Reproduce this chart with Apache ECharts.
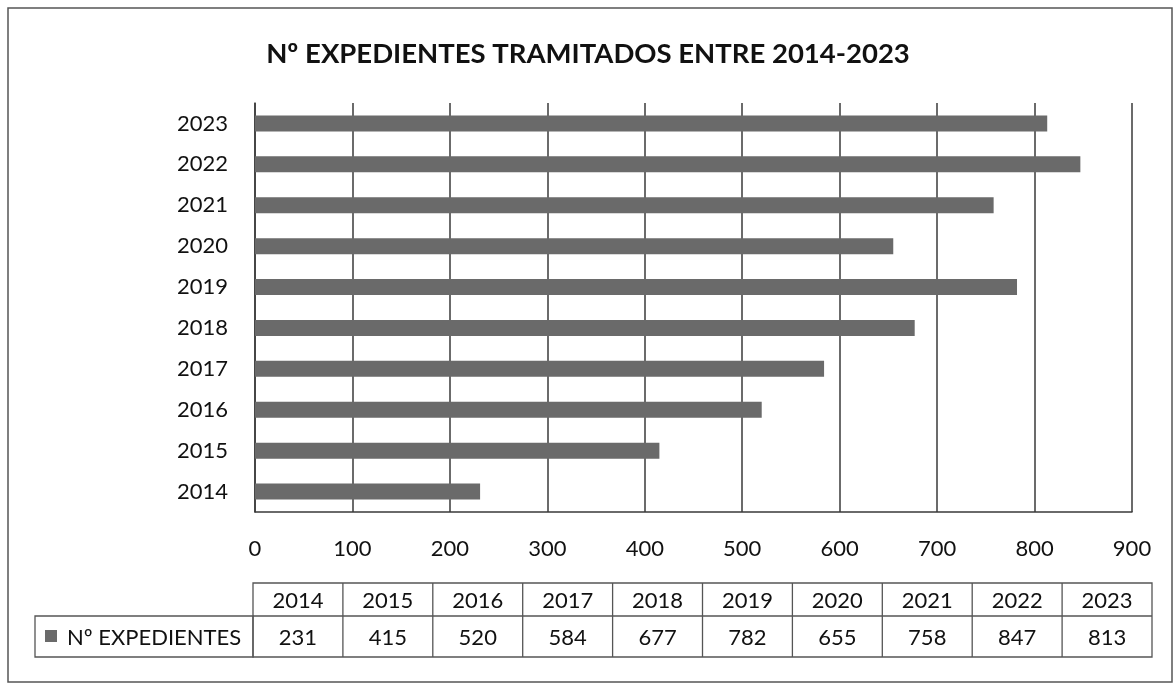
<!DOCTYPE html>
<html><head><meta charset="utf-8">
<script src="https://cdn.jsdelivr.net/npm/echarts@6/dist/echarts.min.js"></script>
<style>html,body{margin:0;padding:0;background:#fff}#c{width:1176px;height:685px}</style>
</head><body><div id="c"></div>
<script>
const title = 'Nº EXPEDIENTES TRAMITADOS ENTRE 2014-2023';
const seriesName = 'Nº EXPEDIENTES';
const years = ['2014','2015','2016','2017','2018','2019','2020','2021','2022','2023'];
const expedientes = [231, 415, 520, 584, 677, 782, 655, 758, 847, 813];
const xTicks = [0,100,200,300,400,500,600,700,800,900];

const FONT = 'Lato, "Open Sans", sans-serif';
const BAR = '#6a6a6a';
const LINE = '#3a3a3a';

// table layout
const tLeft = 253, tRight = 1152, hTop = 583, hMid = 616, hBot = 657, legLeft = 35;
const colW = (tRight - tLeft) / years.length;
const g = [];
g.push({type:'rect', shape:{x:8,y:8,width:1164,height:674}, style:{fill:'none', stroke:'#555', lineWidth:1.5}});
g.push({type:'rect', shape:{x:tLeft,y:hTop,width:tRight-tLeft,height:hBot-hTop}, style:{fill:'none', stroke:'#555', lineWidth:1.3}});
g.push({type:'rect', shape:{x:legLeft,y:hMid,width:tLeft-legLeft,height:hBot-hMid}, style:{fill:'none', stroke:'#555', lineWidth:1.3}});
g.push({type:'line', shape:{x1:tLeft,y1:hMid,x2:tRight,y2:hMid}, style:{stroke:'#555', lineWidth:1.3}});
years.forEach((y,i)=>{
  const x = tLeft + i*colW;
  if (i>0) g.push({type:'line', shape:{x1:x,y1:hTop,x2:x,y2:hBot}, style:{stroke:'#555', lineWidth:1.3}});
  g.push({type:'text', x:x+colW/2, y:(hTop+hMid)/2+1, style:{text:y, fill:'#111', font:'22px '+FONT, align:'center', verticalAlign:'middle'}});
  g.push({type:'text', x:x+colW/2, y:(hMid+hBot)/2+1, style:{text:String(expedientes[i]), fill:'#111', font:'22px '+FONT, align:'center', verticalAlign:'middle'}});
});
g.push({type:'rect', shape:{x:45,y:630,width:12,height:12}, style:{fill:BAR}});
g.push({type:'text', x:67, y:(hMid+hBot)/2+1, style:{text:seriesName, fill:'#111', font:'22px '+FONT, align:'left', verticalAlign:'middle'}});

const chart = echarts.init(document.getElementById('c'));
chart.setOption({
  animation:false,
  backgroundColor:'#fff',
  title:{text:title, left:'center', top:35, textStyle:{fontFamily:FONT, fontWeight:'bold', fontSize:27.5, color:'#111'}},
  grid:{left:255, right:44, top:103, bottom:173, containLabel:false},
  xAxis:{type:'value', min:0, max:900, interval:100,
    axisLine:{show:true, lineStyle:{color:LINE, width:1.5}},
    axisTick:{show:false},
    splitLine:{show:true, lineStyle:{color:LINE, width:1.5}},
    axisLabel:{margin:26, fontFamily:FONT, fontSize:22, color:'#111', formatter:v=>String(v)}},
  yAxis:{type:'category', data:years,
    axisLine:{show:true, lineStyle:{color:LINE, width:1.5}},
    axisTick:{show:false},
    axisLabel:{margin:27, fontFamily:FONT, fontSize:22, color:'#111'}},
  series:[{type:'bar', name:seriesName, data:expedientes, barWidth:16, itemStyle:{color:BAR}}],
  graphic:g
});
</script></body></html>
